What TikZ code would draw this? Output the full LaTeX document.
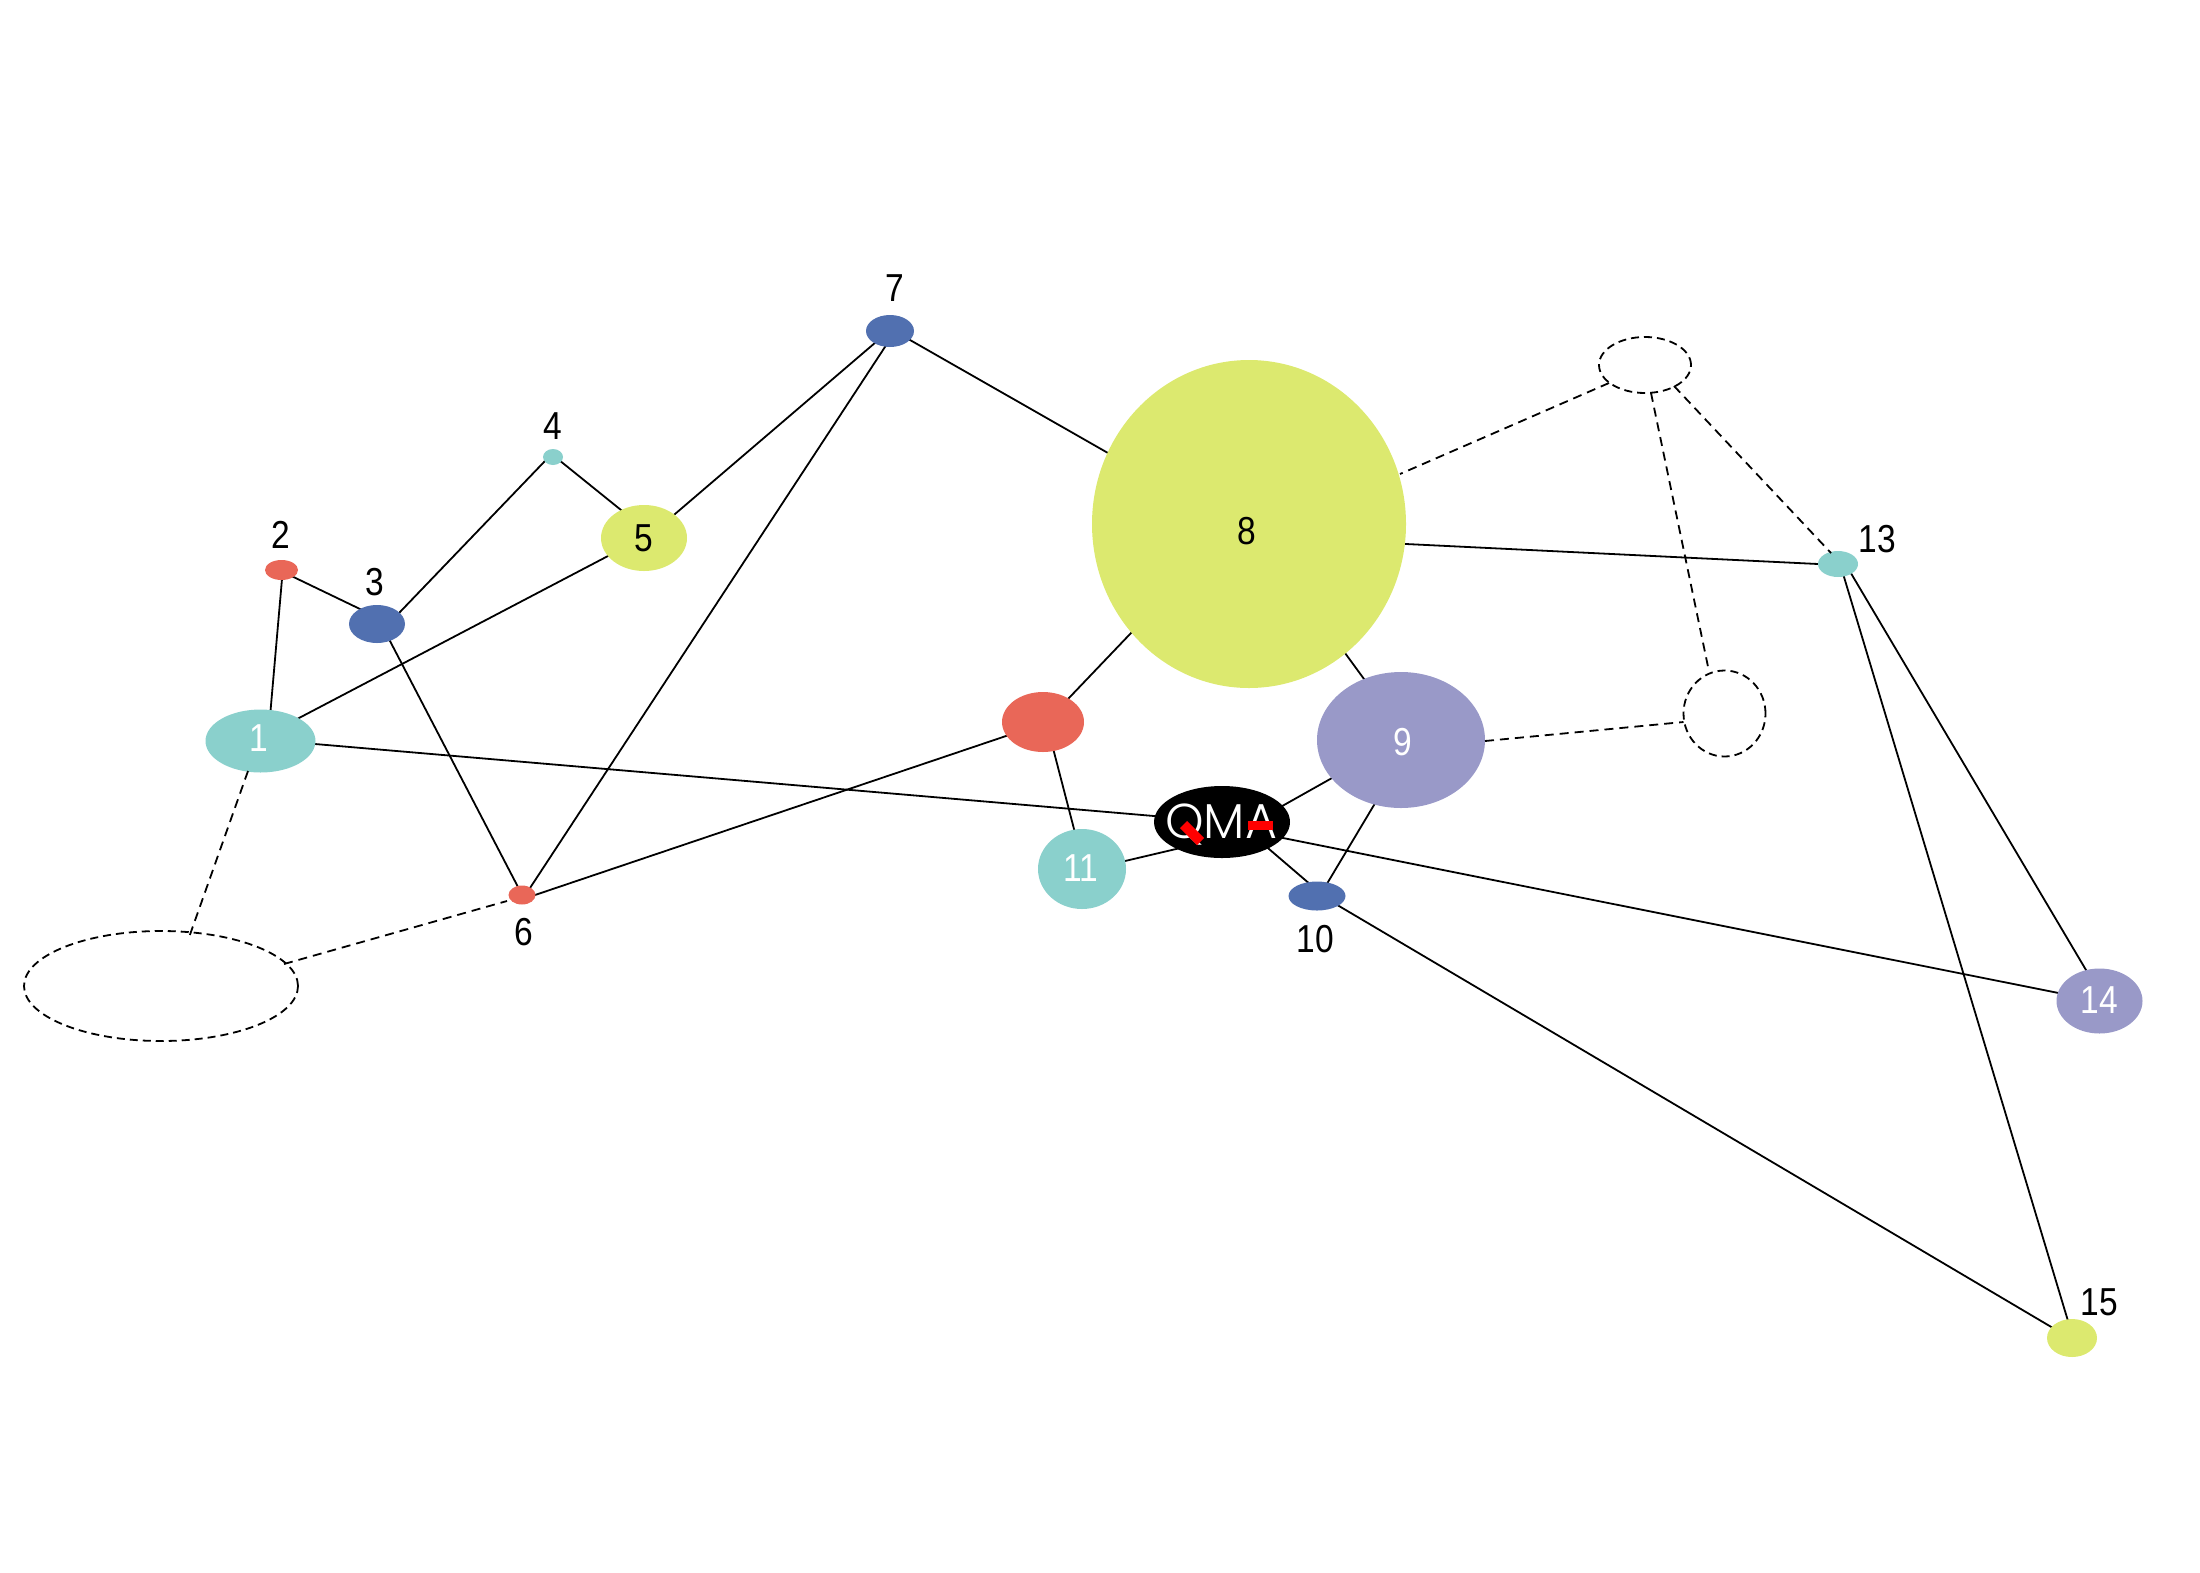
\documentclass[tikz,border=0pt]{standalone}
\usepackage{fontspec}
\setmainfont{Liberation Sans}
\newfontfamily\numfont[FakeStretch=0.86]{Liberation Sans}
\newfontfamily\qmafont[UprightFont={* Light}]{Poppins}
\usetikzlibrary{shapes.geometric,backgrounds}
\definecolor{cteal}{HTML}{8AD0CC}
\definecolor{cred}{HTML}{E96758}
\definecolor{cblue}{HTML}{5170B0}
\definecolor{clime}{HTML}{DCE96F}
\definecolor{cpurple}{HTML}{9999C8}
\tikzset{
  blob/.style n args={3}{ellipse,fill=#1,draw=none,inner sep=0pt,outer sep=0pt,minimum width=#2,minimum height=#3},
  ghost/.style n args={2}{ellipse,draw=black,line width=1.8pt,dash pattern=on 8pt off 5pt,fill=none,inner sep=0pt,outer sep=0pt,minimum width=#1,minimum height=#2},
  edge/.style={draw=black,line width=1.8pt,shorten <=-2pt,shorten >=-2pt},
  dedge/.style={draw=black,line width=1.8pt,dash pattern=on 9pt off 6pt},
  num/.style={inner sep=0pt,font=\numfont\fontsize{39}{41}\selectfont,text=black},
  wnum/.style={num,text=white},
}
\begin{document}
\begin{tikzpicture}[x=1pt,y=-1pt]
\useasboundingbox (0,0) rectangle (2200,1572);
\node[blob={cteal}{110pt}{63pt}] (n1) at (260.5,741) {};
\node[blob={cred}{33pt}{20pt}] (n2) at (281.5,570) {};
\node[blob={cblue}{56pt}{38pt}] (n3) at (377,624) {};
\node[blob={cteal}{20pt}{16pt}] (n4) at (553,457) {};
\node[blob={clime}{86pt}{66pt}] (n5) at (644,538) {};
\node[blob={cred}{27pt}{19pt}] (n6) at (522,895) {};
\node[blob={cblue}{48pt}{32pt}] (n7) at (890,331) {};
\node[blob={clime}{314pt}{328pt}] (n8) at (1249,524) {};
\node[blob={cpurple}{168pt}{136pt}] (n9) at (1401,740) {};
\node[blob={cblue}{57pt}{29pt}] (n10) at (1317,896) {};
\node[blob={cteal}{88pt}{80pt}] (n11) at (1082,869) {};
\node[blob={cred}{82pt}{60pt}] (n12) at (1043,722) {};
\node[blob={cteal}{40pt}{26pt}] (n13) at (1838,564) {};
\node[blob={cpurple}{86pt}{65pt}] (n14) at (2099.5,1001) {};
\node[blob={clime}{50pt}{38pt}] (n15) at (2072,1338) {};
\node[blob={black}{136pt}{72pt}] (q) at (1222,822) {};
\node[ghost={274pt}{110pt}] (g1) at (161,986) {};
\node[ghost={92pt}{56pt}] (g2) at (1645,365) {};
\node[ghost={82pt}{86pt}] (g3) at (1724.5,713.5) {};

\node[inner sep=0pt,text=white,font=\qmafont\fontsize{49}{50}\selectfont] (qt) at (1221,825) {QMA};
\node[fill=red,inner sep=0pt,minimum width=24pt,minimum height=10pt,rotate=-45] (qa) at (1192,833) {};
\node[fill=red,inner sep=0pt,minimum width=25pt,minimum height=9pt] (qb) at (1260,825) {};

\node[wnum] (l1) at (258.5,738) {1};
\node[num] (l2) at (281,535) {2};
\node[num] (l3) at (375,582) {3};
\node[num] (l4) at (553,426) {4};
\node[num] (l5) at (644,538) {5};
\node[num] (l6) at (524,932) {6};
\node[num] (l7) at (894.5,288) {7};
\node[num] (l8) at (1246.5,531) {8};
\node[wnum] (l9) at (1402.5,742) {9};
\node[num] (l10) at (1315,939) {10};
\node[wnum] (l11) at (1081,868) {11};
\node[num] (l13) at (1877.5,539) {13};
\node[wnum] (l14) at (2099,1000) {14};
\node[num] (l15) at (2099,1302) {15};

\begin{scope}[on background layer]
\draw[edge] ([shift={(10,-30)}]n1.center) -- ([shift={(0.5,9)}]n2.center);
\draw[edge] ([shift={(12,7)}]n2.center) -- ([shift={(-17,-15)}]n3.center);
\draw[edge] ([shift={(23,-12)}]n3.center) -- ([shift={(-9,5)}]n4.center);
\draw[edge] ([shift={(8.5,5)}]n4.center) -- ([shift={(-23,-28)}]n5.center);
\draw[edge] ([shift={(38.5,-23)}]n1.center) -- ([shift={(-36,18)}]n5.center);
\draw[edge] ([shift={(31,-24)}]n5.center) -- ([shift={(-14,11)}]n7.center);
\draw[edge] ([shift={(13,17)}]n3.center) -- ([shift={(-4,-8)}]n6.center);
\draw[edge] ([shift={(8,-7)}]n6.center) -- ([shift={(-4.4,15)}]n7.center);
\draw[edge] ([shift={(20,9)}]n7.center) -- ([shift={(-141,-71)}]n8.center);
\draw[edge] ([shift={(-37,14)}]n12.center) -- ([shift={(13,0)}]n6.center);
\draw[edge] ([shift={(-118,109)}]n8.center) -- ([shift={(25,-23)}]n12.center);
\draw[edge] ([shift={(11,30)}]n12.center) -- ([shift={(-8,-40)}]n11.center);
\draw[edge] ([shift={(43,-8)}]n11.center) -- ([shift={(-46,27)}]q.center);
\draw[edge] ([shift={(54.5,3)}]n1.center) -- ([shift={(-68,-6)}]q.center);
\draw[edge] ([shift={(62,-17)}]q.center) -- ([shift={(-69,38)}]n9.center);
\draw[edge] ([shift={(47,27)}]q.center) -- ([shift={(-9.5,-14)}]n10.center);
\draw[edge] ([shift={(61,16)}]q.center) -- ([shift={(-41,-8)}]n14.center);
\draw[edge] ([shift={(-27,65)}]n9.center) -- ([shift={(11,-14)}]n10.center);
\draw[edge] ([shift={(96,129)}]n8.center) -- ([shift={(-37,-61)}]n9.center);
\draw[edge] ([shift={(22,10)}]n10.center) -- ([shift={(-19,-10)}]n15.center);
\draw[edge] ([shift={(157,20)}]n8.center) -- ([shift={(-20,0)}]n13.center);
\draw[edge] ([shift={(14,11)}]n13.center) -- ([shift={(-13.5,-31)}]n14.center);
\draw[edge] ([shift={(6,13)}]n13.center) -- ([shift={(-4,-17)}]n15.center);
\end{scope}
\draw[dedge] ([shift={(84,1)}]n9.center) -- ([shift={(-41,8.5)}]g3.center);
\draw[dedge] ([shift={(6,28)}]g2.center) -- ([shift={(-15.5,-42)}]g3.center);
\draw[dedge] ([shift={(-36,18)}]g2.center) -- ([shift={(151,-50)}]n8.center);
\draw[dedge] ([shift={(29,21)}]g2.center) -- ([shift={(-7,-11)}]n13.center);
\draw[dedge] ([shift={(-12.5,30)}]n1.center) -- ([shift={(28.5,-50)}]g1.center);
\draw[dedge] ([shift={(123,-22)}]g1.center) -- ([shift={(-15,6)}]n6.center);
\end{tikzpicture}
\end{document}
